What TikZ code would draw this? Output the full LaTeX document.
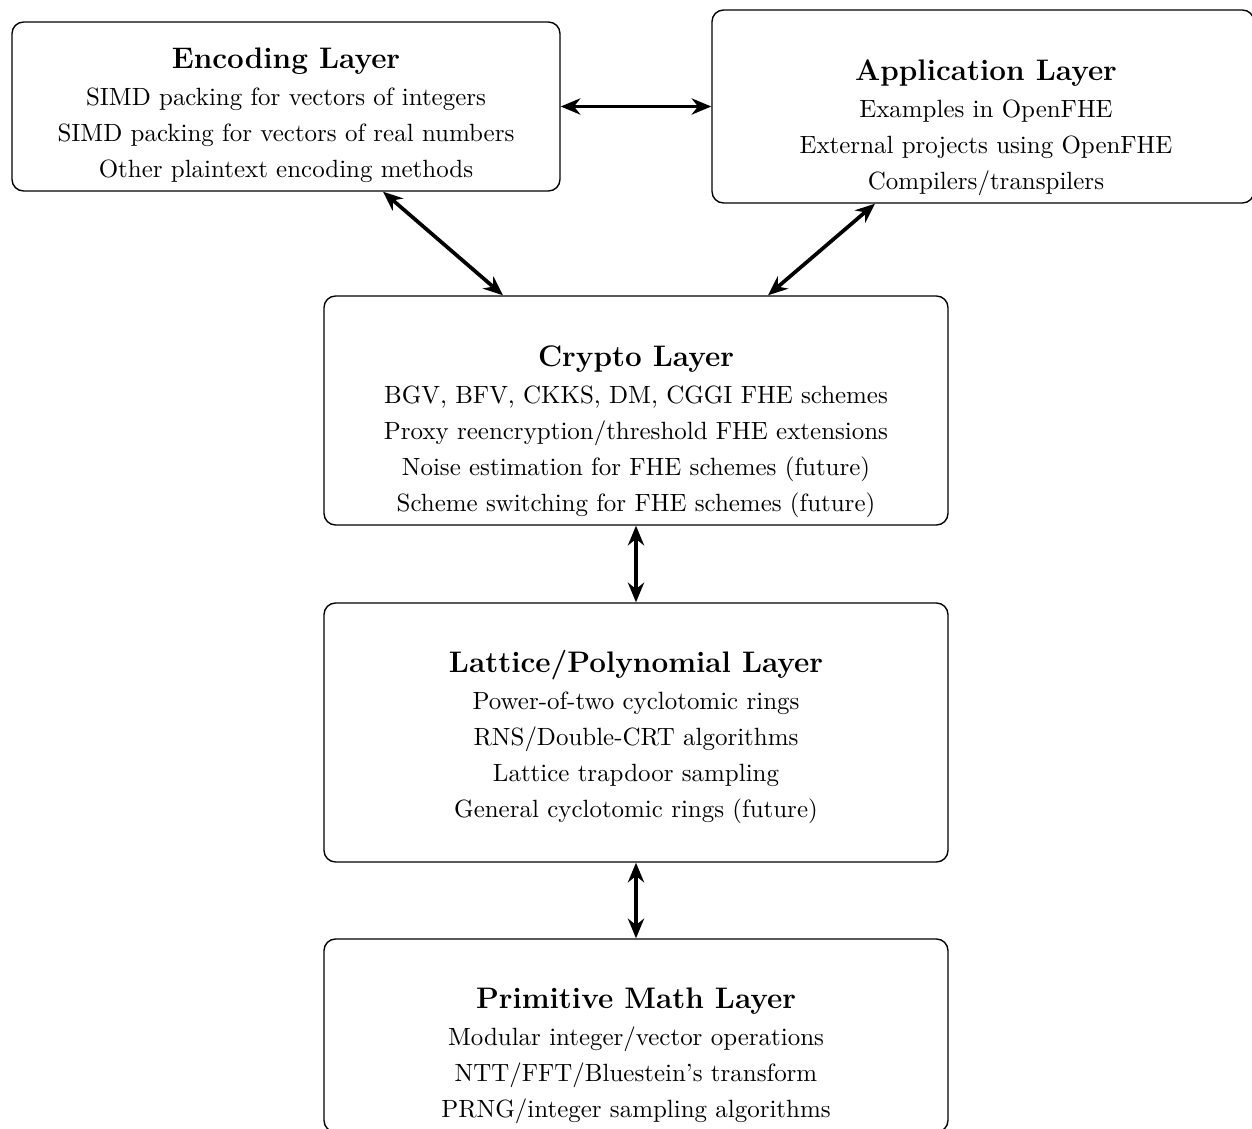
\documentclass[tikz,border=0pt]{standalone}
\usepackage{amsmath}
\usepackage{tikz}
\usetikzlibrary{arrows.meta,calc}
\newcommand{\layertitle}[1]{{\fontsize{12.8}{15.5}\selectfont\bfseries #1}}

\begin{document}
\begin{tikzpicture}[line cap=round,line join=round,>={Stealth[length=8.5pt,width=7pt,inset=2.8pt]},x=0.431pt,y=-0.431pt,
    layer/.style={draw,semithick,rounded corners=5pt,inner sep=0pt},
    info/.style={align=center,font=\fontsize{10.75}{15.5}\selectfont},
    link/.style={<->,ultra thick}]
    \clip(0,0) rectangle (1252,1129);
    % boxes
    \node[layer,minimum width=548*0.431pt,minimum height=169*0.431pt] (encoding) at (286,106.5) {};
    \node[layer,minimum width=542*0.431pt,minimum height=193*0.431pt] (application) at (983,106.5) {};
    \node[layer,minimum width=624*0.431pt,minimum height=229*0.431pt] (crypto) at (636,410.5) {};
    \node[layer,minimum width=624*0.431pt,minimum height=259*0.431pt] (lattice) at (636,732.5) {};
    \node[layer,minimum width=624*0.431pt,minimum height=193*0.431pt] (primitive) at (636,1035.5) {};
    % texts
    \node[info] (encodingtxt) at (286,115) {\layertitle{Encoding Layer}\\[0.5pt]
      SIMD packing for vectors of integers\\
      SIMD packing for vectors of real numbers\\
      Other plaintext encoding methods};
    \node[info] (applicationtxt) at (986,127.5) {\layertitle{Application Layer}\\[0.5pt]
      Examples in OpenFHE\\
      External projects using OpenFHE\\
      Compilers/transpilers};
    \node[info] (cryptotxt) at (636,431.5) {\layertitle{Crypto Layer}\\[0.5pt]
      BGV, BFV, CKKS, DM, CGGI FHE schemes\\
      Proxy reencryption/threshold FHE extensions\\
      Noise estimation for FHE schemes (future)\\
      Scheme switching for FHE schemes (future)};
    \node[info] (latticetxt) at (636,737) {\layertitle{Lattice/Polynomial Layer}\\[0.5pt]
      Power-of-two cyclotomic rings\\
      RNS/Double-CRT algorithms\\
      Lattice trapdoor sampling\\
      General cyclotomic rings (future)};
    \node[info] (primitivetxt) at (636,1056) {\layertitle{Primitive Math Layer}\\[0.5pt]
      Modular integer/vector operations\\
      NTT/FFT/Bluestein's transform\\
      PRNG/integer sampling algorithms};
    % links
    \draw[link] (encoding.east) -- (application.west);
    \draw[link] ($(encoding.south)+(97,0)$) -- ($(crypto.north)+(-133,0)$);
    \draw[link] ($(application.south)+(-108,0)$) -- ($(crypto.north)+(132,0)$);
    \draw[link] (crypto.south) -- (lattice.north);
    \draw[link] (lattice.south) -- (primitive.north);
  \end{tikzpicture}
\end{document}
